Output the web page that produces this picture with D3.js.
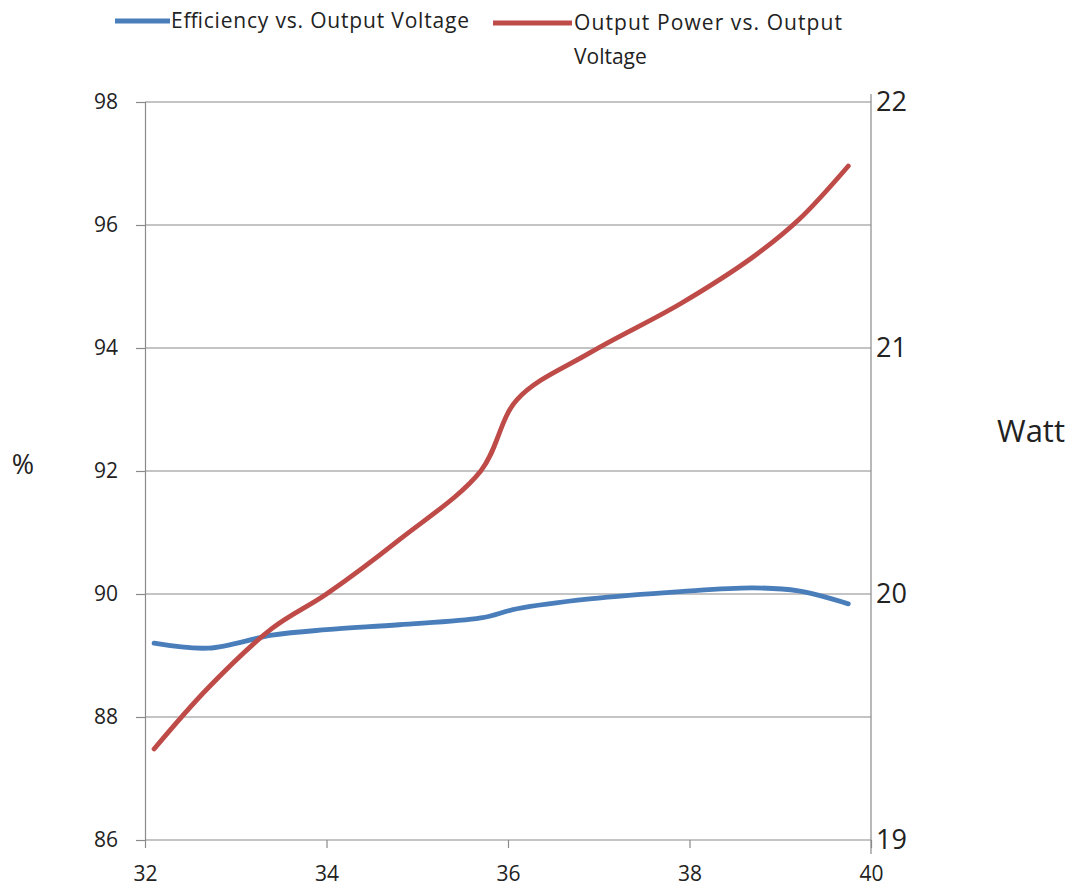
<!DOCTYPE html>
<html><head><meta charset="utf-8">
<script src="https://cdn.jsdelivr.net/npm/d3@7"></script>
<style>body{margin:0;background:#fff}svg{display:block}text{font-family:"Open Sans","Liberation Sans",sans-serif;fill:#222}</style>
</head><body>
<svg id="c" width="1079" height="886"></svg>
<script>
const voltage = [32.1, 32.7, 33.4, 34.0, 34.8, 35.7, 36.1, 36.9, 37.9, 38.7, 39.2, 39.75];
const efficiency = [89.20, 89.12, 89.33, 89.42, 89.50, 89.61, 89.76, 89.92, 90.04, 90.10, 90.05, 89.84];
const power = [19.37, 19.62, 19.86, 20.00, 20.22, 20.50, 20.79, 20.98, 21.18, 21.37, 21.52, 21.74];
const xTicks = [32, 34, 36, 38, 40];
const leftTicks = [86, 88, 90, 92, 94, 96, 98];
const rightTicks = [19, 20, 21, 22];
const seriesNames = ["Efficiency vs. Output Voltage", ["Output Power vs. Output", "Voltage"]];
const colors = ["#4a7ebb", "#be4b48"];

const svg = d3.select("#c");
const L = 145, R = 871, T = 102, B = 840;
const x = d3.scaleLinear().domain([32, 40]).range([L, R]);
const yL = d3.scaleLinear().domain([86, 98]).range([B, T]);
const yR = d3.scaleLinear().domain([19, 22]).range([B, T]);
const grid = "#8a8a8a";

// gridlines
svg.append("g").selectAll("line").data(leftTicks.slice(1)).join("line")
  .attr("x1", L).attr("x2", R).attr("y1", d => yL(d)).attr("y2", d => yL(d))
  .attr("stroke", grid).attr("stroke-width", 1.2);

// left axis
const gl = svg.append("g").attr("transform", `translate(${L},0)`)
  .call(d3.axisLeft(yL).tickValues(leftTicks).tickSize(9).tickPadding(18).tickFormat(d3.format("d")));
gl.select(".domain").attr("stroke", grid).attr("stroke-width", 1.2);
gl.selectAll(".tick line").attr("stroke", grid).attr("stroke-width", 1.2);
gl.selectAll("text").attr("font-size", 21).attr("fill", "#222").style("font-family", "Open Sans");

// right axis
const gr = svg.append("g").attr("transform", `translate(${R},0)`)
  .call(d3.axisRight(yR).tickValues(rightTicks).tickSize(0).tickPadding(5).tickFormat(d3.format("d")));
gr.select(".domain").attr("stroke", grid).attr("stroke-width", 1.2).attr("d", `M0,${T-8}V${B+14}`);
gr.selectAll("text").attr("font-size", 27).attr("fill", "#222").style("font-family", "Open Sans");

// bottom axis
const gb = svg.append("g").attr("transform", `translate(0,${B})`)
  .call(d3.axisBottom(x).tickValues(xTicks).tickSize(8).tickPadding(18).tickFormat(d3.format("d")));
gb.select(".domain").attr("stroke", grid).attr("stroke-width", 1.2).attr("d", `M${L},0H${R}`);
gb.selectAll(".tick line").attr("stroke", grid).attr("stroke-width", 1.2);
gb.selectAll("text").attr("font-size", 21).attr("fill", "#222").style("font-family", "Open Sans");

// axis titles
svg.append("text").attr("x", 23).attr("y", 474).attr("text-anchor", "middle").attr("font-size", 27).text("%");
svg.append("text").attr("x", 1031).attr("y", 442).attr("text-anchor", "middle").attr("font-size", 31).text("Watt");

// lines
const data = voltage.map((v, i) => ({v, e: efficiency[i], p: power[i]}));
const curve = d3.curveCatmullRom.alpha(0.5);
svg.append("path").datum(data)
  .attr("d", d3.line().x(d => x(d.v)).y(d => yL(d.e)).curve(curve))
  .attr("fill", "none").attr("stroke", colors[0]).attr("stroke-width", 4.8).attr("stroke-linecap", "round");
svg.append("path").datum(data)
  .attr("d", d3.line().x(d => x(d.v)).y(d => yR(d.p)).curve(curve))
  .attr("fill", "none").attr("stroke", colors[1]).attr("stroke-width", 4.8).attr("stroke-linecap", "round");

// legend
const lg = svg.append("g");
lg.append("line").attr("x1", 115).attr("x2", 170).attr("y1", 21).attr("y2", 21).attr("stroke", colors[0]).attr("stroke-width", 5);
lg.append("text").attr("x", 171).attr("y", 28).attr("font-size", 21).attr("textLength", 298).text(seriesNames[0]);
lg.append("line").attr("x1", 493).attr("x2", 572).attr("y1", 23).attr("y2", 23).attr("stroke", colors[1]).attr("stroke-width", 5);
lg.append("text").attr("x", 574).attr("y", 30).attr("font-size", 21).attr("textLength", 268).text(seriesNames[1][0]);
lg.append("text").attr("x", 574).attr("y", 64).attr("font-size", 21).text(seriesNames[1][1]);
</script>
</body></html>
